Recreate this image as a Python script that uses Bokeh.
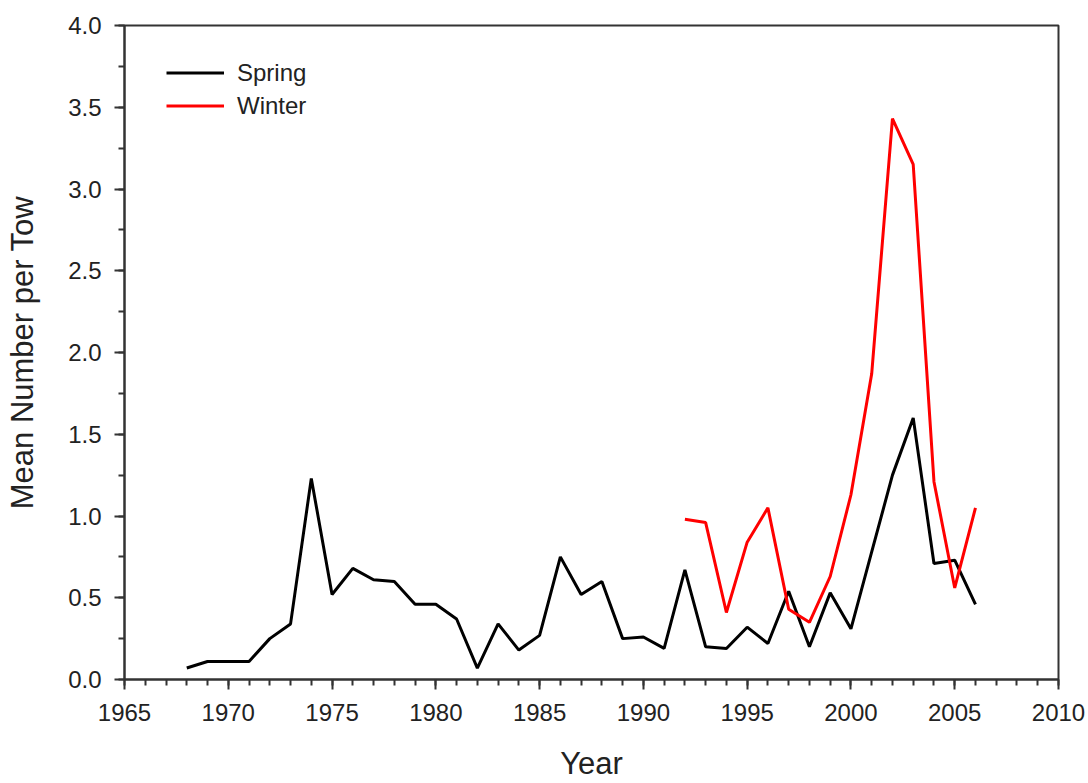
from bokeh.plotting import figure
from bokeh.models import Legend, LegendItem, PrintfTickFormatter, FixedTicker, Range1d
from bokeh.embed import file_html
from bokeh.resources import INLINE

spring_years = list(range(1968, 2007))
spring_vals = [0.07, 0.11, 0.11, 0.11, 0.25, 0.34, 1.23, 0.52, 0.68, 0.61, 0.60,
               0.46, 0.46, 0.37, 0.07, 0.34, 0.18, 0.27, 0.75, 0.52, 0.60, 0.25,
               0.26, 0.19, 0.67, 0.20, 0.19, 0.32, 0.22, 0.54, 0.20, 0.53, 0.31,
               0.78, 1.25, 1.60, 0.71, 0.73, 0.46]
winter_years = list(range(1992, 2007))
winter_vals = [0.98, 0.96, 0.41, 0.84, 1.05, 0.43, 0.35, 0.63, 1.13, 1.87,
               3.43, 3.15, 1.21, 0.56, 1.05]

x_ticks = [1965, 1970, 1975, 1980, 1985, 1990, 1995, 2000, 2005, 2010]
y_ticks = [0.0, 0.5, 1.0, 1.5, 2.0, 2.5, 3.0, 3.5, 4.0]

FONT = "Liberation Sans"
TXT = "#222222"
AX = "#333333"

p = figure(width=1088, height=783, output_backend="svg", toolbar_location=None,
           x_range=Range1d(1965, 2010), y_range=Range1d(0, 4.0),
           min_border_left=124, min_border_right=30, min_border_top=25,
           min_border_bottom=103)
p.background_fill_color = "white"
p.border_fill_color = "white"
p.outline_line_color = AX
p.outline_line_width = 2
p.grid.visible = False

r1 = p.line(spring_years, spring_vals, line_color="black", line_width=3)
r2 = p.line(winter_years, winter_vals, line_color="#ff0000", line_width=3)

p.xaxis.ticker = FixedTicker(ticks=x_ticks, minor_ticks=list(range(1965, 2011)))
p.yaxis.ticker = FixedTicker(ticks=y_ticks, minor_ticks=[i * 0.25 for i in range(17)])
p.xaxis.formatter = PrintfTickFormatter(format="%d")
p.yaxis.formatter = PrintfTickFormatter(format="%.1f")

for ax in (p.xaxis[0], p.yaxis[0]):
    ax.axis_line_color = AX
    ax.axis_line_width = 2
    ax.major_tick_line_color = AX
    ax.major_tick_line_width = 2
    ax.minor_tick_line_color = AX
    ax.minor_tick_line_width = 2
    ax.major_tick_in = 0
    ax.major_tick_out = 10
    ax.minor_tick_in = 0
    ax.minor_tick_out = 6
    ax.major_label_text_font = FONT
    ax.major_label_text_font_size = "24px"
    ax.major_label_text_color = TXT
    ax.axis_label_text_font = FONT
    ax.axis_label_text_font_size = "31px"
    ax.axis_label_text_font_style = "normal"
    ax.axis_label_text_color = TXT

p.xaxis.axis_label = "Year"
p.yaxis.axis_label = "Mean Number per Tow"
p.xaxis.major_label_standoff = 14
p.yaxis.major_label_standoff = 13
p.xaxis.axis_label_standoff = 22
p.yaxis.axis_label_standoff = 25

legend = Legend(items=[LegendItem(label="Spring", renderers=[r1]),
                       LegendItem(label="Winter", renderers=[r2])],
                location=(42, 557), margin=0, padding=0, spacing=0,
                glyph_width=58, glyph_height=33, label_height=33,
                label_standoff=13, background_fill_alpha=0,
                border_line_alpha=0, label_text_font=FONT,
                label_text_font_size="24px", label_text_color=TXT)
p.add_layout(legend)

open("out.html", "w").write(file_html(p, INLINE))
